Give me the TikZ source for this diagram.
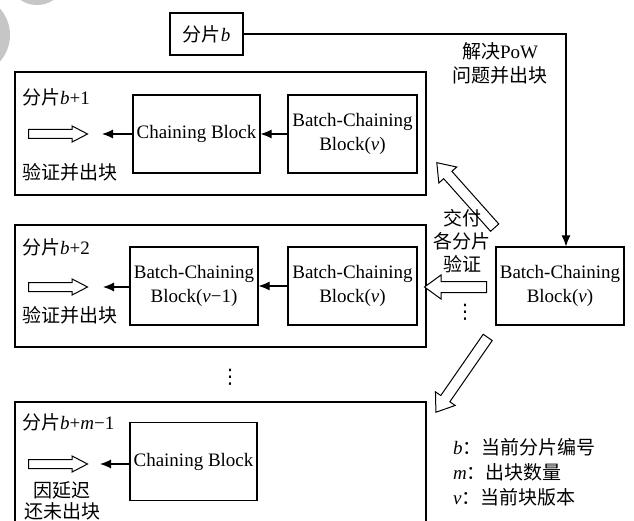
\documentclass[tikz,border=0pt]{standalone}
\usepackage{fontspec}
\setmainfont{Liberation Serif}
\newfontfamily\cjk{Noto Sans CJK SC}
\newfontfamily\sym{DejaVu Sans}
\usepackage{tikz}
\usetikzlibrary{shapes,arrows,arrows.meta,positioning}
\tikzstyle{shard} = [draw, line width=1.1pt, minimum width=411pt, inner sep=0pt]
\tikzstyle{block} = [draw, line width=1.1pt, minimum width=127pt, minimum height=78pt, align=center, inner sep=0pt]
\tikzstyle{hollow} = [single arrow, draw, fill=white, line width=1pt, inner sep=4pt, single arrow head extend=3.5pt, single arrow tip angle=55, minimum height=59pt, anchor=tail]
\tikzstyle{bighollow} = [hollow, inner sep=5pt, single arrow head extend=6.5pt, single arrow tip angle=72]
\tikzstyle{line} = [draw, line width=1.1pt, -{Latex[length=11pt,width=9pt]}]
\tikzstyle{txt} = [inner sep=0pt, anchor=west]
\tikzstyle{ctxt} = [inner sep=0pt, align=center]
\tikzstyle{vdot} = [inner sep=0pt, font=\sym\fontsize{20pt}{20pt}\selectfont]

\begin{document}
\begin{tikzpicture}[x=1pt, y=-1pt, font=\fontsize{19pt}{24pt}\selectfont]
			\useasboundingbox (0,0) rectangle (634,521);
			% watermark
			\fill [gray!45] (-30,35) circle (40);
			\fill [gray!45] (37,-25) circle (30);

			% shard b
			\node [block, minimum width=73pt, minimum height=42pt] (shardb) at (206.5,34) {{\cjk 分片}\textit{b}};
			\node [ctxt] (pow) at (500,63.5) {{\cjk 解决}PoW\\{\cjk 问题并出块}};
			\node [block, minimum width=128pt] (batch) at (560,286) {Batch-Chaining\\Block(\textit{v})};

			% shard b+1
			\node [shard, minimum height=123pt] (shardone) at (220.5,133.5) {};
			\node [txt] (nameone) at (22,97) {{\cjk 分片}\textit{b}+1};
			\node [block] (chainone) at (196.5,134) {Chaining Block};
			\node [block, minimum width=129pt] (batchone) at (352.5,134) {Batch-Chaining\\Block(\textit{v})};
			\coordinate (endone) at (102,134);
			\node [hollow] (goone) at (28,134) {};
			\node [txt] (outone) at (22,172) {\cjk 验证并出块};

			% shard b+2
			\node [shard, minimum height=122pt] (shardtwo) at (220.5,286) {};
			\node [txt] (nametwo) at (22,247) {{\cjk 分片}\textit{b}+2};
			\node [block, minimum width=128pt] (chaintwo) at (194,286) {Batch-Chaining\\Block(\textit{v}−1)};
			\node [block, minimum width=129pt] (batchtwo) at (352.5,286) {Batch-Chaining\\Block(\textit{v})};
			\coordinate (endtwo) at (103,287);
			\node [hollow] (gotwo) at (28,287) {};
			\node [txt] (outtwo) at (22,315) {\cjk 验证并出块};

			\node [vdot] (dotsmid) at (230,377) {⋮};

			% shard b+m-1
			\node [shard, minimum height=160pt] (shardm) at (220.5,482) {};
			\node [txt] (namem) at (22,422) {{\cjk 分片}\textit{b}+\textit{m}−1};
			\node [block] (chainm) at (193.5,461.5) {Chaining Block};
			\coordinate (endm) at (100,464);
			\node [hollow] (gom) at (28,464) {};
			\node [ctxt, font=\cjk\fontsize{19pt}{21pt}\selectfont] (outm) at (62,501) {因延迟\\还未出块};

			% delivery
			\node [bighollow, minimum height=87pt, rotate=131.7] (upto) at (495,228) {};
			\node [bighollow, minimum height=62pt, rotate=180] (leftto) at (487,287) {};
			\node [bighollow, minimum height=91pt, rotate=235.3] (downto) at (488,337) {};
			\node [ctxt, font=\cjk\fontsize{19pt}{23pt}\selectfont] (give) at (462,241) {交付\\各分片\\验证};
			\node [vdot] (dotsright) at (465,312) {⋮};

			% legend
			\node [txt] (keyb) at (453,447) {\textit{b}{\cjk ：当前分片编号}};
			\node [txt] (keym) at (453,472) {\textit{m}{\cjk ：出块数量}};
			\node [txt] (keyv) at (453,497) {\textit{v}{\cjk ：当前块版本}};

			\path [line] (shardb.east) -| ([xshift=6pt]batch.north);
			\path [line] (batchone) -- (chainone);
			\path [line] (chainone) -- (endone);
			\path [line] (batchtwo) -- (chaintwo);
			\path [line] (chaintwo.west |- endtwo) -- (endtwo);
			\path [line] (chainm.west |- endm) -- (endm);
		\end{tikzpicture}
\end{document}
